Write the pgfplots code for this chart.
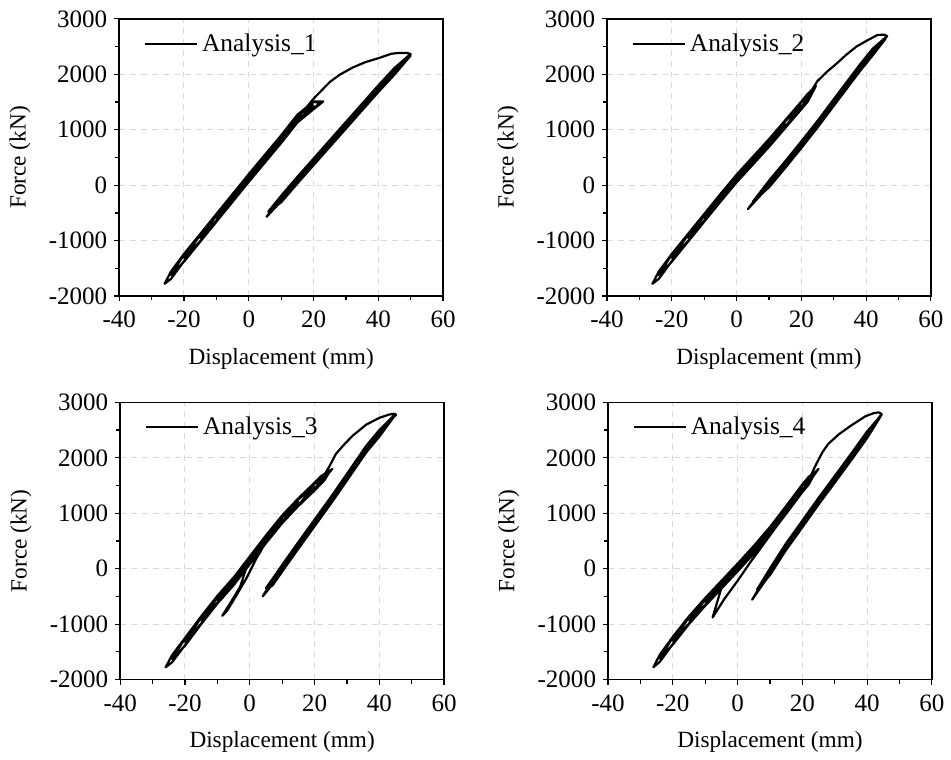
\documentclass[border=0pt]{standalone}
\usepackage{fontspec}
\setmainfont{Liberation Serif}
\usepackage{pgfplots}
\pgfplotsset{compat=1.18}

\pgfplotsset{
  loopax/.style={
    scale only axis, width=163pt, height=139.5pt,
    xmin=-40, xmax=60, ymin=-2000, ymax=3000,
    xtick={-40,-20,...,60}, ytick={-2000,-1000,...,3000},
    minor x tick num=1, minor y tick num=1,
    tick pos=left, tick align=outside,
    major tick length=2.5pt, minor tick length=2pt,
    grid=major, major grid style={gray!30, line width=0.5pt, dash pattern=on 3pt off 2.5pt},
    axis line style={line width=0.8pt},
    every tick/.style={black, line width=0.6pt},
    tick label style={font=\fontsize{12.6}{15}\selectfont},
    xticklabel style={yshift=-1.5pt},
    xlabel={Displacement (mm)}, ylabel={Force (kN)},
    xlabel style={at={(axis description cs:0.5,-0.225)}, anchor=center},
    ylabel style={at={(axis description cs:-0.306,0.5)}, anchor=center},
    /pgf/number format/assume math mode=true,
    /pgf/number format/set thousands separator={},
    legend style={draw=none, fill=none, at={(0.07,0.97)}, anchor=north west, inner sep=1pt,
                  font=\fontsize{12.8}{15}\selectfont},
    legend image code/.code={\draw[#1] (0pt,0pt) -- (26pt,0pt);},
    legend cell align=left,
  },
  hyst/.style={black, line width=1.1pt, line join=round, mark=none},
}

\begin{document}
\begin{tikzpicture}[font=\fontsize{11.7}{14}\selectfont]
\path (0,0) rectangle (475.5pt,-378.5pt);

% ---------------- Analysis_1
\begin{axis}[loopax, at={(60pt,-149pt)}, anchor=south west]
\addplot[hyst] coordinates {
(0,130)
(2.5,285) (5,480) (2.5,325) (0,150) (-2.5,-30) (-5,-230)
(0,100) (5,450) (10,830) (5,510) (0,160) (-5,-200) (-10,-590)
(-5,-270) (0,90) (5,440) (10,790) (15,1200) (10,870) (5,520) (0,170) (-5,-190) (-10,-550) (-15,-950)
(-10,-640) (-5,-280) (0,80) (5,430) (10,780) (15,1150) (20,1440) (15,1250) (10,880) (5,530) (0,180) (-5,-180) (-10,-540) (-15,-900) (-20,-1310)
(-15,-1010) (-10,-650) (-5,-290) (0,70) (5,420) (10,770) (15,1140) (20,1380) (22,1487) (20,1500) (15,1260) (10,890) (5,540) (0,190) (-5,-170) (-10,-530) (-15,-890) (-20,-1250) (-24,-1623)
(-20,-1380) (-15,-1020) (-10,-660) (-5,-300) (0,60) (5,410) (10,760) (15,1130) (20,1370) (23,1510) (20,1510) (15,1270) (10,900) (5,550) (0,200) (-5,-160) (-10,-520) (-15,-880) (-20,-1240) (-24,-1555) (-26,-1780)
(-24,-1690) (-20,-1370) (-15,-1010) (-10,-650) (-5,-290) (0,70) (5,420) (10,770) (15,1200) (20,1560) (25,1860) (28,1990) (32,2120) (36,2220) (40,2290) (44,2370) (46,2385) (49,2385) (50,2365)
(45,2095) (40,1780) (30,1120) (20,460) (15,130) (10,-210) (5.5,-570)
(10,-290) (15,50) (20,380) (30,1040) (40,1700) (45,2015) (50,2370)
(45,2115) (40,1800) (30,1140) (20,480) (15,150) (10,-190) (6,-480)
(10,-310) (15,30) (20,360) (30,1020) (40,1680) (45,1995) (50,2340)
(45,2065) (40,1750) (30,1090) (20,430) (15,100) (10,-240) (7,-450)
};
\addlegendentry{Analysis\_1}
\end{axis}

% ---------------- Analysis_2
\begin{axis}[loopax, at={(305.5pt,-149pt)}, anchor=south west]
\addplot[hyst] coordinates {
(0,120)
(2.5,260) (5,440) (2.5,300) (0,140) (-2.5,-35) (-5,-230)
(0,90) (5,410) (10,760) (5,470) (0,150) (-5,-200) (-10,-590)
(-5,-270) (0,80) (5,400) (10,720) (15,1100) (10,800) (5,480) (0,160) (-5,-190) (-10,-550) (-15,-950)
(-10,-640) (-5,-280) (0,70) (5,390) (10,710) (15,1050) (20,1440) (15,1150) (10,810) (5,490) (0,170) (-5,-180) (-10,-540) (-15,-900) (-20,-1310)
(-15,-1010) (-10,-650) (-5,-290) (0,60) (5,380) (10,700) (15,1040) (20,1380) (22,1580) (20,1500) (15,1160) (10,820) (5,500) (0,180) (-5,-170) (-10,-530) (-15,-890) (-20,-1250) (-24,-1625)
(-20,-1380) (-15,-1020) (-10,-660) (-5,-300) (0,50) (5,370) (10,690) (15,1030) (20,1370) (22,1510) (24.5,1790) (22,1650) (20,1510) (15,1170) (10,830) (5,510) (0,190) (-5,-160) (-10,-520) (-15,-880) (-20,-1240) (-24,-1555) (-26,-1780)
(-24,-1690) (-20,-1370) (-15,-1010) (-10,-650) (-5,-290) (0,60) (5,380) (10,700) (15,1040) (20,1400) (22,1600) (25,1880) (28,2050) (31,2200) (34,2360) (37,2500) (40,2600) (43.5,2710) (45.5,2715) (46.5,2690)
(42,2440) (38,2150) (34,1840) (30,1530) (25,1140) (20,770) (15,410) (10,60) (3.5,-430)
(10,-20) (15,330) (20,690) (25,1060) (30,1450) (34,1760) (38,2070) (42,2360) (46.5,2690)
(42,2460) (38,2170) (34,1860) (30,1550) (25,1160) (20,790) (15,430) (10,80) (5,-300)
(10,-40) (15,310) (20,670) (25,1040) (30,1430) (34,1740) (38,2050) (42,2340) (46,2640)
(42,2410) (38,2120) (34,1810) (30,1500) (25,1110) (20,740) (15,380) (10,30) (6,-250)
};
\addlegendentry{Analysis\_2}
\end{axis}

% ---------------- Analysis_3
\begin{axis}[loopax, at={(60.5pt,-342pt)}, anchor=south west]
\addplot[hyst] coordinates {
(0,150)
(2.5,320) (5,530) (2.5,360) (0,170) (-2.5,-20) (-5,-230)
(0,120) (5,500) (10,890) (5,560) (0,180) (-5,-200) (-10,-560)
(-5,-270) (0,110) (5,490) (10,850) (15,1200) (10,930) (5,570) (0,190) (-5,-190) (-10,-520) (-15,-930)
(-10,-610) (-5,-280) (0,100) (5,480) (10,840) (15,1150) (20,1480) (15,1250) (10,940) (5,580) (0,200)
(-3,-330) (-6,-620) (-8.5,-850) (-7,-760) (-4,-470) (-1,-170) (2,180) (5,480) (10,840) (15,1150) (20,1430) (22,1596)
(20,1530) (15,1250) (10,940) (5,580) (0,200) (-5,-180) (-10,-510) (-15,-880) (-20,-1320)
(-15,-990) (-10,-620) (-5,-290) (0,90) (5,470) (10,830) (15,1140) (20,1420) (25.5,1800) (20,1540) (15,1260) (10,950) (5,590) (0,210) (-5,-170) (-10,-500) (-15,-870) (-20,-1260) (-24,-1630)
(-20,-1390) (-15,-1000) (-10,-630) (-5,-300) (0,80) (5,460) (10,820) (15,1130) (20,1410) (23,1590) (25,1780) (22,1670) (20,1550) (15,1270) (10,960) (5,600) (0,220) (-5,-160) (-10,-490) (-15,-860) (-20,-1250) (-24,-1560) (-26,-1780)
(-24,-1690) (-20,-1380) (-15,-990) (-10,-620) (-5,-290) (0,90) (5,470) (10,830) (15,1140) (20,1420) (22,1600) (24.5,1835) (26.6,2070) (29,2230) (31.7,2395) (36,2600) (40,2720) (43,2780) (44.6,2795) (45.2,2775)
(40,2480) (36,2200) (30,1690) (25.5,1310) (20,864) (15,459) (11,130) (7,-206) (4,-500)
(7,-286) (11,50) (15,379) (20,784) (25.5,1230) (30,1610) (36,2120) (40,2400) (45,2790)
(40,2500) (36,2220) (30,1710) (25.5,1330) (20,884) (15,479) (11,150) (7,-186) (5,-350)
(7,-306) (11,30) (15,359) (20,764) (25.5,1210) (30,1590) (36,2100) (40,2380) (44.5,2740)
(40,2450) (36,2170) (30,1660) (25.5,1280) (20,834) (15,429) (11,100) (7,-236) (5.5,-380)
};
\addlegendentry{Analysis\_3}
\end{axis}

% ---------------- Analysis_4
\begin{axis}[loopax, at={(306pt,-342pt)}, anchor=south west]
\addplot[hyst] coordinates {
(0,20)
(2.5,160) (5,340) (2.5,200) (0,40) (-2.5,-115) (-5,-290)
(0,-10) (5,310) (10,680) (5,370) (0,50) (-5,-260) (-10,-600)
(-5,-330) (0,-20) (5,300) (10,640) (15,1060) (10,720) (5,380) (0,60) (-5,-250) (-10,-560) (-15,-930)
(-10,-650) (-5,-340) (0,-30) (5,290) (10,630) (15,1010) (20,1450)
(15,1080) (12,760) (8,440) (4,120) (0,-220) (-4,-540) (-7.7,-880)
(-5,-350) (0,-30) (5,290) (10,630) (15,1010) (20,1400) (22,1590)
(20,1500) (15,1110) (10,730) (5,390) (0,70) (-5,-240) (-10,-550) (-15,-880) (-20,-1300)
(-15,-990) (-10,-660) (-5,-350) (0,-40) (5,280) (10,620) (15,1000) (20,1390) (25,1800) (20,1510) (15,1120) (10,740) (5,400) (0,80) (-5,-230) (-10,-540) (-15,-870) (-20,-1240) (-24,-1620)
(-20,-1370) (-15,-1000) (-10,-670) (-5,-360) (0,-50) (5,270) (10,610) (15,990) (20,1380) (22,1520) (24,1740) (22,1660) (20,1520) (15,1130) (10,750) (5,410) (0,90) (-5,-220) (-10,-530) (-15,-860) (-20,-1230) (-24,-1550) (-26,-1780)
(-24,-1680) (-20,-1360) (-15,-990) (-10,-660) (-5,-350) (0,-40) (5,280) (10,620) (15,1000) (20,1400) (22,1600) (24.1,1864) (26.2,2100) (28,2250) (31.3,2425) (35,2580) (39.5,2750) (42,2805) (43.6,2820) (44.5,2790)
(40,2455) (35.4,2080) (30,1651) (25,1256) (20,846) (14.9,429) (10,-17) (4.5,-560)
(10,-97) (14.9,349) (20,766) (25,1176) (30,1571) (35.4,2000) (40,2375) (44.5,2780)
(40,2475) (35.4,2100) (30,1671) (25,1276) (20,866) (14.9,449) (10,3) (6,-380)
(10,-117) (14.9,329) (20,746) (25,1156) (30,1551) (35.4,1980) (40,2355) (44,2730)
(40,2425) (35.4,2050) (30,1621) (25,1226) (20,816) (14.9,399) (10,-47) (7,-330)
};
\addlegendentry{Analysis\_4}
\end{axis}
\end{tikzpicture}
\end{document}
